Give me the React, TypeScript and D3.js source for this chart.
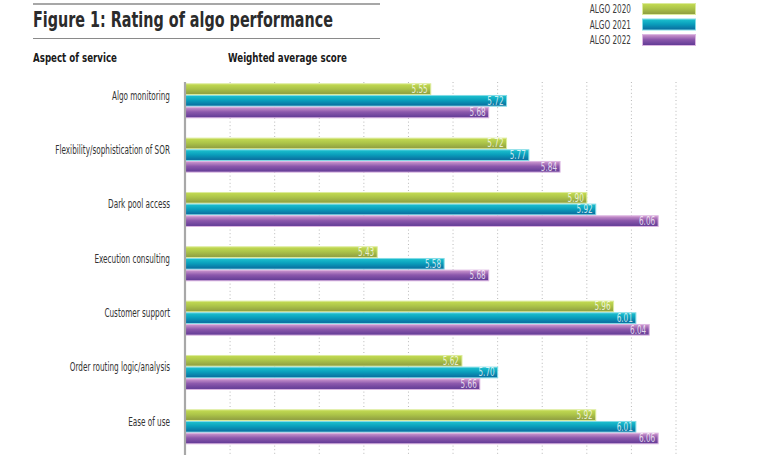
import React from "react";
import * as d3 from "d3";

const categories = [
  "Algo monitoring",
  "Flexibility/sophistication of SOR",
  "Dark pool access",
  "Execution consulting",
  "Customer support",
  "Order routing logic/analysis",
  "Ease of use",
];
const seriesNames = ["ALGO 2020", "ALGO 2021", "ALGO 2022"];
const algo2020 = [5.55, 5.72, 5.9, 5.43, 5.96, 5.62, 5.92];
const algo2021 = [5.72, 5.77, 5.92, 5.58, 6.01, 5.7, 6.01];
const algo2022 = [5.68, 5.84, 6.06, 5.68, 6.04, 5.66, 6.06];
const gridTicks = [5.1, 5.2, 5.3, 5.4, 5.5, 5.6, 5.7, 5.8, 5.9, 6.0, 6.1];

const seriesValues = [algo2020, algo2021, algo2022];
const palettes = [
  { top: "#c4dc52", mid: "#acc449", bottom: "#8c9b40", border: "#dceb9c" },
  { top: "#1ec2cf", mid: "#0a9fbc", bottom: "#0a689c", border: "#80dbe6" },
  { top: "#d09ad0", mid: "#8c58ac", bottom: "#5f3994", border: "#dcb6e2" },
];

const FONT = "'DejaVu Sans Condensed', 'DejaVu Sans', sans-serif";
const SX = 0.71;
const FS = 11.4;

export default function App() {
  const W = 760;
  const H = 455;
  const x = d3.scaleLinear().domain([5, 6.1]).range([185.5, 676]);
  const y = d3
    .scaleBand<string>()
    .domain(categories)
    .range([83.3, 444.3])
    .paddingInner(0.3558)
    .paddingOuter(0);
  const ys = d3
    .scaleBand<string>()
    .domain(seriesNames)
    .range([0, y.bandwidth()])
    .padding(0);

  return (
    <svg
      width={W}
      height={H}
      style={{ position: "absolute", left: 0, top: 0, background: "#fff" }}
      fontFamily={FONT}
    >
      <defs>
        {palettes.map((p, i) => (
          <linearGradient key={i} id={`g${i}`} x1="0" y1="0" x2="0" y2="1">
            <stop offset="0" stopColor={p.top} />
            <stop offset="0.45" stopColor={p.mid} />
            <stop offset="1" stopColor={p.bottom} />
          </linearGradient>
        ))}
      </defs>
      <rect x={0} y={0} width={W} height={H} fill="#fff" />

      {/* Title block */}
      <line x1={33} x2={380} y1={4} y2={4} stroke="#8a8a8a" strokeWidth={1.5} />
      <text
        x={33}
        y={27}
        fontSize={21}
        fontWeight="bold"
        fill="#2b2b2b"
        textLength={300}
        lengthAdjust="spacingAndGlyphs"
      >
        Figure 1: Rating of algo performance
      </text>
      <line x1={33} x2={380} y1={38.5} y2={38.5} stroke="#8a8a8a" strokeWidth={1.2} />
      <text
        x={33}
        y={61.5}
        fontSize={12.5}
        fontWeight="bold"
        fill="#1a1a1a"
        textLength={84}
        lengthAdjust="spacingAndGlyphs"
      >
        Aspect of service
      </text>
      <text
        x={228}
        y={61.5}
        fontSize={12.5}
        fontWeight="bold"
        fill="#1a1a1a"
        textLength={119}
        lengthAdjust="spacingAndGlyphs"
      >
        Weighted average score
      </text>

      {/* Legend */}
      {seriesNames.map((s, i) => (
        <g key={s}>
          <text
            transform={`translate(631,${13.3 + i * 15.3}) scale(${SX},1)`}
            fontSize={FS}
            textAnchor="end"
            fill="#3a3a3a"
          >
            {s}
          </text>
          <rect
            x={642.5}
            y={3.5 + i * 15.5}
            width={53}
            height={11}
            fill={`url(#g${i})`}
            stroke={palettes[i].border}
            strokeWidth={1}
          />
        </g>
      ))}

      {/* Gridlines */}
      {gridTicks.map((t) => (
        <line
          key={t}
          x1={x(t)}
          x2={x(t)}
          y1={82}
          y2={H}
          stroke="#b8b8b8"
          strokeWidth={1}
          strokeDasharray="1,2.6"
        />
      ))}

      {/* Bars */}
      {categories.map((c, ci) => (
        <g key={c} transform={`translate(0,${y(c)})`}>
          <text
            transform={`translate(170,16.3) scale(${SX},1)`}
            fontSize={FS}
            textAnchor="end"
            fill="#333"
          >
            {c}
          </text>
          {seriesNames.map((s, si) => {
            const v = seriesValues[si][ci];
            const by = ys(s) as number;
            const bh = ys.bandwidth();
            return (
              <g key={s}>
                <rect
                  x={x(5)}
                  y={by + 0.5}
                  width={x(v) - x(5)}
                  height={bh - 1}
                  fill={`url(#g${si})`}
                  stroke={palettes[si].border}
                  strokeWidth={1}
                />
                <text
                  transform={`translate(${x(v) - 3},${by + bh - 2}) scale(${SX},1)`}
                  fontSize={FS}
                  textAnchor="end"
                  fill="#ffffff"
                  fillOpacity={0.78}
                >
                  {d3.format(".2f")(v)}
                </text>
              </g>
            );
          })}
        </g>
      ))}

      {/* Axis line */}
      <line x1={185} x2={185} y1={82} y2={H} stroke="#a8a8a8" strokeWidth={2.2} />
    </svg>
  );
}
